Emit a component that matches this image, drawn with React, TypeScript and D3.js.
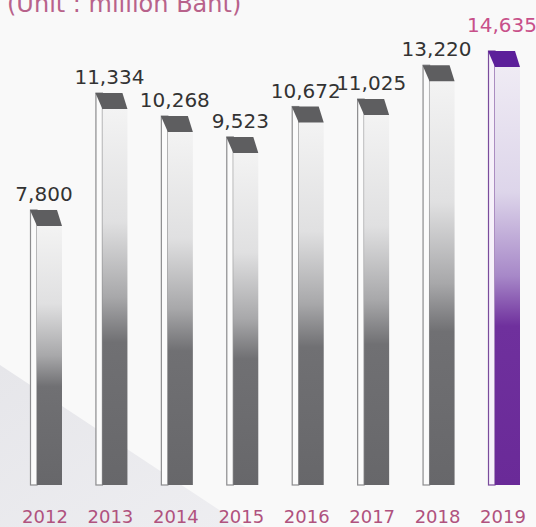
import React from 'react';
import * as d3 from 'd3';

const title = '(Unit : million Baht)';
const years = ['2012', '2013', '2014', '2015', '2016', '2017', '2018', '2019'];
const values = [7800, 11334, 10268, 9523, 10672, 11025, 13220, 14635];
const highlightYear = '2019';

const W = 536;
const H = 527;
const BASE = 485;
const CAP = 16;
const FONT = '"DejaVu Sans", "Liberation Sans", Arial, sans-serif';

export default function App() {
  const x = d3.scalePoint<string>().domain(years).range([46, 504]);
  // the original artwork exaggerates the middle bars; a concave power scale follows it
  const y = d3.scalePow().exponent(-2).domain([5213, 14635]).range([BASE, 51]);
  const fmt = d3.format(',');

  return (
    <svg
      width={W}
      height={H}
      style={{ position: 'absolute', left: 0, top: 0, display: 'block' }}
    >
      <defs>
        <linearGradient id="gBody" x1="0" y1="0" x2="0" y2="1">
          <stop offset="0" stopColor="#f3f3f3" />
          <stop offset="0.3" stopColor="#e0e0e1" />
          <stop offset="0.5" stopColor="#a8a8aa" />
          <stop offset="0.62" stopColor="#707073" />
          <stop offset="1" stopColor="#67676a" />
        </linearGradient>
        <linearGradient id="pBody" x1="0" y1="0" x2="0" y2="1">
          <stop offset="0" stopColor="#efebf4" />
          <stop offset="0.3" stopColor="#ddd5ea" />
          <stop offset="0.5" stopColor="#a788c8" />
          <stop offset="0.62" stopColor="#6f309d" />
          <stop offset="1" stopColor="#6a2a98" />
        </linearGradient>
        <linearGradient id="bgTri" x1="0" y1="0" x2="1" y2="1">
          <stop offset="0" stopColor="#e6e6ea" />
          <stop offset="1" stopColor="#eeeef1" />
        </linearGradient>
      </defs>
      <rect x={0} y={0} width={W} height={H} fill="#f9f9f9" />
      <polygon points={`0,365 245,${H} 0,${H}`} fill="url(#bgTri)" />

      <text x={7} y={12} fontFamily={FONT} fontSize={24} fill="#b8628b">
        {title}
      </text>

      {years.map((yr, i) => {
        const c = x(yr) as number;
        const top = y(values[i]);
        const hl = yr === highlightYear;
        const capFill = hl ? '#5c1f9a' : '#5e5e60';
        const stripStroke = hl ? '#7a4c9c' : '#8c8c8e';
        const stripFill = hl ? '#f6f1fa' : '#fbfbfb';
        return (
          <g key={yr}>
            <rect
              x={c - 15.5}
              y={top}
              width={6.5}
              height={BASE - top}
              fill={stripFill}
              stroke={stripStroke}
              strokeWidth={1.2}
            />
            <rect
              x={c - 9}
              y={top + CAP}
              width={25}
              height={BASE - top - CAP}
              fill={hl ? 'url(#pBody)' : 'url(#gBody)'}
            />
            <polygon
              points={`${c - 16},${top} ${c + 11},${top} ${c + 16},${top + CAP} ${c - 9},${top + CAP}`}
              fill={capFill}
            />
            <text
              x={c - 2}
              y={top - (hl ? 19 : 9)}
              textAnchor="middle"
              fontFamily={FONT}
              fontSize={20}
              fill={hl ? '#c8508a' : '#333333'}
            >
              {fmt(values[i])}
            </text>
            <text
              x={c - 1}
              y={523}
              textAnchor="middle"
              fontFamily={FONT}
              fontSize={18}
              fill="#b0527e"
            >
              {yr}
            </text>
          </g>
        );
      })}
    </svg>
  );
}
